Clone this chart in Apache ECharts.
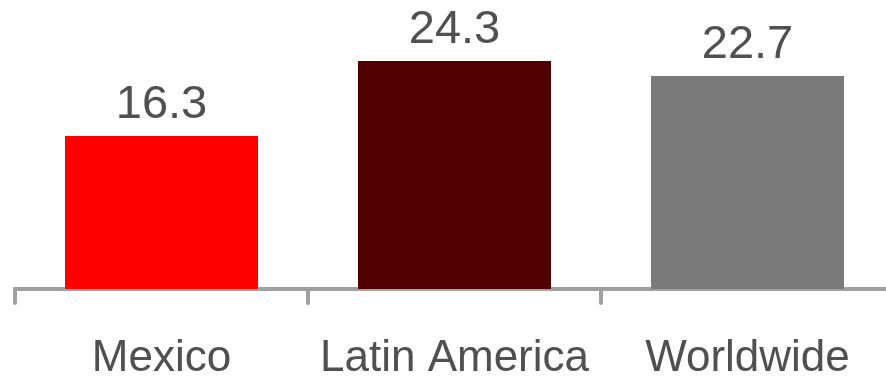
<!DOCTYPE html>
<html>
<head>
<meta charset="utf-8">
<script src="https://cdn.jsdelivr.net/npm/echarts@6/dist/echarts.min.js"></script>
<style>
  html, body { margin: 0; padding: 0; background: #ffffff; }
  #chart { width: 886px; height: 380px; }
</style>
</head>
<body>
<div id="chart"></div>
<script>
// Categories and values
const categories = ['Mexico', 'Latin America', 'Worldwide'];
const values = [16.3, 24.3, 22.7];
const barColors = ['#ff0000', '#500000', '#7b7b7b'];

const chart = echarts.init(document.getElementById('chart'), null, { renderer: 'canvas' });

chart.setOption({
  animation: false,
  backgroundColor: '#ffffff',
  grid: {
    left: 15, width: 879, top: 7.4, height: 281.6,
    containLabel: false,
    outerBoundsMode: 'none'
  },
  xAxis: {
    type: 'category',
    data: categories,
    axisLine: { show: true, lineStyle: { color: '#a0a0a0', width: 4, cap: 'round' } },
    axisTick: { show: true, interval: 0, alignWithLabel: false, length: 14, lineStyle: { color: '#a0a0a0', width: 4, cap: 'round' } },
    axisLabel: {
      interval: 0,
      hideOverlap: false,
      margin: 48,
      color: '#505050',
      fontFamily: 'Liberation Sans, Arial, sans-serif',
      fontSize: 44
    }
  },
  yAxis: {
    type: 'value',
    min: 0,
    max: 30,
    show: false,
    splitLine: { show: false }
  },
  series: [{
    type: 'bar',
    barWidth: 193,
    data: values.map((v, i) => ({ value: v, itemStyle: { color: barColors[i] } })),
    label: {
      show: true,
      position: 'top',
      distance: 7,
      color: '#505050',
      fontFamily: 'Liberation Sans, Arial, sans-serif',
      fontSize: 47,
      formatter: p => p.value.toFixed(1)
    }
  }]
});
</script>
</body>
</html>
